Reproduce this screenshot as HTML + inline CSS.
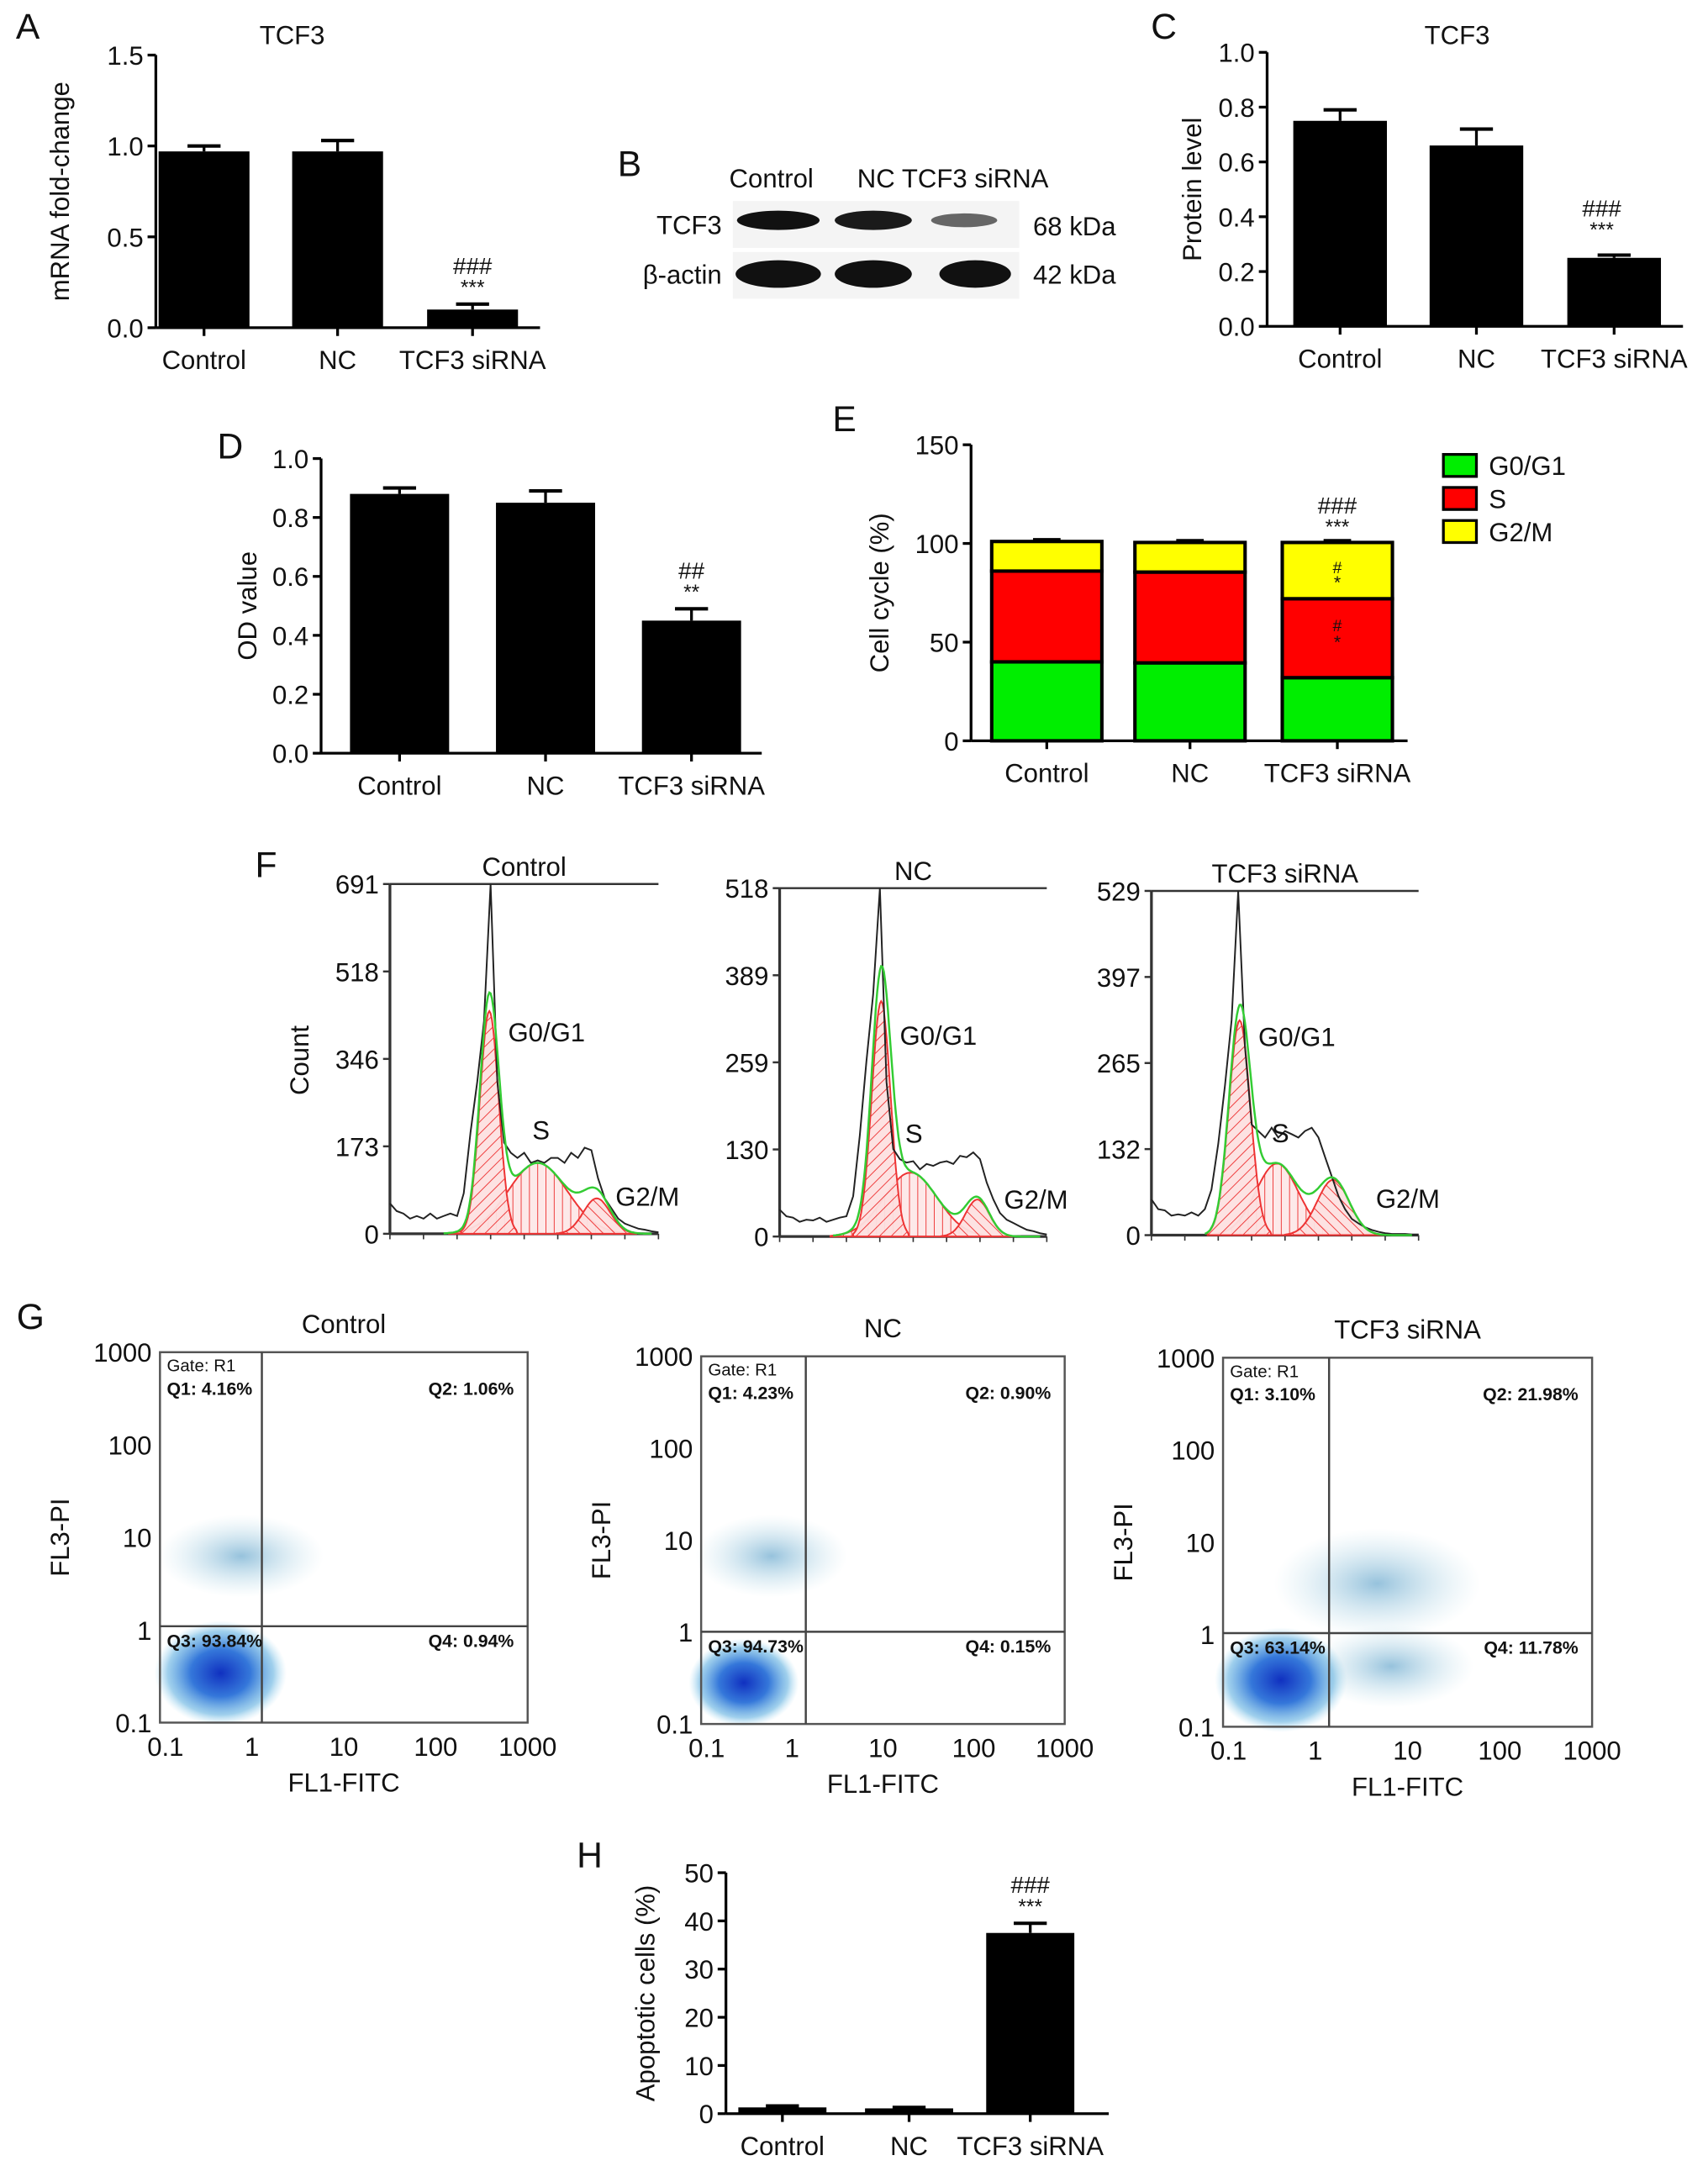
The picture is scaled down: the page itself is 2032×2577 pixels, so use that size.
<!DOCTYPE html>
<html><head><meta charset="utf-8"><style>
html,body{margin:0;padding:0;background:#fff}
svg{display:block}
text{font-family:"Liberation Sans",sans-serif;fill:#111}
</style></head><body>
<svg id="fig" width="2032" height="2577" viewBox="0 0 1240 1573" xmlns="http://www.w3.org/2000/svg">
<defs>
<pattern id="hatchD" patternUnits="userSpaceOnUse" width="6" height="6" patternTransform="rotate(45)"><rect width="6" height="6" fill="#fde0e0"/><line x1="0" y1="0" x2="0" y2="6" stroke="#e33" stroke-width="1.2"/></pattern>
<pattern id="hatchV" patternUnits="userSpaceOnUse" width="6" height="6"><rect width="6" height="6" fill="#fde8e8"/><line x1="0" y1="0" x2="0" y2="6" stroke="#e33" stroke-width="1.2"/></pattern>
<pattern id="hatchU" patternUnits="userSpaceOnUse" width="6" height="6" patternTransform="rotate(-45)"><rect width="6" height="6" fill="#fde0e0"/><line x1="0" y1="0" x2="0" y2="6" stroke="#e33" stroke-width="1.2"/></pattern>
<radialGradient id="cloud"><stop offset="0" stop-color="#1030c0"/><stop offset="0.45" stop-color="#2a70d8" stop-opacity="0.95"/><stop offset="0.8" stop-color="#60b0e0" stop-opacity="0.6"/><stop offset="1" stop-color="#a0d8f0" stop-opacity="0"/></radialGradient>
<radialGradient id="cloudL"><stop offset="0" stop-color="#4090c0" stop-opacity="0.55"/><stop offset="1" stop-color="#a0d0e0" stop-opacity="0"/></radialGradient>
</defs>
<g id="root"></g>
</svg>
<script>
// ---- data ----
const groups = ["Control","NC","TCF3 siRNA"];
const mrnaVals = [0.97,0.97,0.10];
const mrnaErr = [0.03,0.06,0.03];
const protVals = [0.75,0.66,0.25];
const protErr = [0.04,0.06,0.01];
const odVals = [0.88,0.85,0.45];
const odErr = [0.02,0.04,0.04];
const g1Vals = [40,39.5,32];
const sVals = [46,46,40];
const g2Vals = [15,15,28.5];
const apopVals = [1.3,1.1,37.5];
const apopErr = [0.3,0.2,2];
const histMax = [691,518,529];
const histTicks = [["0","173","346","518","691"],["0","130","259","389","518"],["0","132","265","397","529"]];
const histControl = [60,45,40,30,35,30,40,30,35,40,35,80,200,300,420,691,300,180,160,150,160,140,145,140,150,150,140,160,150,170,165,110,70,50,30,20,15,10,8,5,3];
const histNC = [40,30,28,22,25,24,28,22,25,28,30,60,150,260,360,518,230,130,115,110,112,100,108,105,110,112,108,120,118,125,115,80,55,35,25,20,15,10,8,5,3];
const histSi = [55,40,38,30,32,30,35,30,40,70,140,230,330,529,290,170,160,150,165,150,160,155,150,160,165,150,120,90,60,40,25,18,12,8,5,3,2,2,2,1,1];
// gaussian fits: [mean, sd, height] per phase
const fitG1 = [[0.37,0.035,440],[0.38,0.035,350],[0.33,0.04,330]];
const fitS = [[0.55,0.11,140],[0.49,0.1,95],[0.47,0.08,110]];
const fitG2 = [[0.77,0.05,70],[0.74,0.045,55],[0.68,0.06,85]];
const quadLabels = [["Q1: 4.16%","Q2: 1.06%","Q3: 93.84%","Q4: 0.94%"],["Q1: 4.23%","Q2: 0.90%","Q3: 94.73%","Q4: 0.15%"],["Q1: 3.10%","Q2: 21.98%","Q3: 63.14%","Q4: 11.78%"]];
const logTicks = ["0.1","1","10","100","1000"];

const NS="http://www.w3.org/2000/svg";
const root=document.getElementById('root');
function el(tag,attrs,parent,txt){const e=document.createElementNS(NS,tag);for(const k in attrs)e.setAttribute(k,attrs[k]);if(txt!==undefined)e.textContent=txt;(parent||root).appendChild(e);return e;}
function T(x,y,s,size,anchor,parent,extra){const e=el('text',Object.assign({x:x,y:y,'font-size':size||19,'text-anchor':anchor||'middle'},extra||{}),parent,s);return e;}

function barPanel(o){
  const g=el('g',{});
  
  
  const y=v=>o.y0-(v/o.max)*(o.y0-o.y1);
  el('line',{x1:o.ax,y1:o.y1,x2:o.ax,y2:o.y0,stroke:'#000','stroke-width':2},g);
  el('line',{x1:o.ax,y1:o.y0,x2:o.axEnd,y2:o.y0,stroke:'#000','stroke-width':2},g);
  o.ticks.forEach(t=>{const yy=y(t);el('line',{x1:o.ax-6,y1:yy,x2:o.ax,y2:yy,stroke:'#000','stroke-width':2},g);T(o.ax-9,yy+7,o.fmt(t),19,'end',g);});
  o.centers.forEach((c,i)=>{
    el('line',{x1:c,y1:o.y0,x2:c,y2:o.y0+6,stroke:'#000','stroke-width':2},g);
    const lab=T(c,o.y0+30,groups[i],19,'middle',g);
    
    if(o.vals){
      const top=y(o.vals[i]),et=y(o.vals[i]+o.err[i]);
      el('line',{x1:c,y1:et,x2:c,y2:top,stroke:'#000','stroke-width':2},g);
      el('line',{x1:c-12,y1:et,x2:c+12,y2:et,stroke:'#000','stroke-width':2.5},g);
      const b=el('rect',{x:c-o.bw/2,y:top,width:o.bw,height:o.y0-top,fill:'#000'},g);
      
    }
  });
  const yl=T(0,0,o.ylab,19,'middle',g,{transform:`translate(${o.ylx},${(o.y0+o.y1)/2}) rotate(-90)`});
  
  return {g,y};
}
function sig(x,y,hash,stars,g){T(x,y,hash,17,'middle',g);T(x,y+15,stars,15,'middle',g);}

// A
let A=barPanel({name:'panel-a-mrna',ax:113,axEnd:392,y0:238,y1:40,max:1.5,ticks:[0,0.5,1,1.5],fmt:v=>v.toFixed(1),centers:[148,245,343],bw:66,vals:mrnaVals,err:mrnaErr,ylab:'mRNA fold-change',ylx:50});
T(20,28,'A',26,'middle');T(212,32,'TCF3',19);
sig(343,A.y(mrnaVals[2]+mrnaErr[2])-22,'###','***',A.g);
// C
let C=barPanel({name:'panel-c-protein',ax:920,axEnd:1222,y0:237,y1:38,max:1.0,ticks:[0,0.2,0.4,0.6,0.8,1.0],fmt:v=>v.toFixed(1),centers:[973,1072,1172],bw:68,vals:protVals,err:protErr,ylab:'Protein level',ylx:872});
T(845,28,'C',26);T(1058,32,'TCF3',19);
sig(1163,C.y(protVals[2]+protErr[2])-28,'###','***',C.g);
// D
let D=barPanel({name:'panel-d-od',ax:233,axEnd:553,y0:547,y1:333,max:1.0,ticks:[0,0.2,0.4,0.6,0.8,1.0],fmt:v=>v.toFixed(1),centers:[290,396,502],bw:72,vals:odVals,err:odErr,ylab:'OD value',ylx:186});
T(167,333,'D',26);
sig(502,D.y(odVals[2]+odErr[2])-22,'##','**',D.g);
// E stacked
let E=barPanel({name:'panel-e-cell-cycle',ax:705,axEnd:1022,y0:538,y1:323,max:150,ticks:[0,50,100,150],fmt:v=>String(v),centers:[760,864,971],bw:80,ylab:'Cell cycle (%)',ylx:645});
T(613,313,'E',26);
[760,864,971].forEach((c,i)=>{
  let base=0;
  [[g1Vals,'#00ee00'],[sVals,'#ff0000'],[g2Vals,'#ffff00']].forEach(([arr,col],k)=>{
    const yb=E.y(base),yt=E.y(base+arr[i]);
    const r=el('rect',{x:c-40,y:yt,width:80,height:yb-yt,fill:col,stroke:'#000','stroke-width':2.5},E.g);
    
    el('line',{x1:c-10,y1:yt-1.5,x2:c+10,y2:yt-1.5,stroke:'#000','stroke-width':2},E.g);
    base+=arr[i];
  });
});
sig(971,E.y(g1Vals[2]+sVals[2]+g2Vals[2])-21,'###','***',E.g);
T(971,E.y(g1Vals[2]+sVals[2]+g2Vals[2]/2)+2,'#',12,'middle',E.g);T(971,E.y(g1Vals[2]+sVals[2]+g2Vals[2]/2)+13,'*',13,'middle',E.g);
T(971,E.y(g1Vals[2]+sVals[2]/2)-5,'#',12,'middle',E.g);T(971,E.y(g1Vals[2]+sVals[2]/2)+7,'*',13,'middle',E.g);
const leg=el('g',{});
[['G0/G1','#00ee00'],['S','#ff0000'],['G2/M','#ffff00']].forEach(([n,c],i)=>{
  el('rect',{x:1048,y:330+i*24,width:24,height:16,fill:c,stroke:'#000','stroke-width':2},leg);
  T(1081,345+i*24,n,19,'start',leg);
});
// H
let H=barPanel({name:'panel-h-apoptosis',ax:527,axEnd:805,y0:1535,y1:1360,max:50,ticks:[0,10,20,30,40,50],fmt:v=>String(v),centers:[568,660,748],bw:64,vals:apopVals,err:apopErr,ylab:'Apoptotic cells (%)',ylx:475});
T(428,1356,'H',26);
sig(748,H.y(apopVals[2]+apopErr[2])-22,'###','***',H.g);

// B western blot
const wb=el('g',{});
T(457,128,'B',26,'middle',wb);
T(560,136,'Control',19,'middle',wb);T(636,136,'NC',19,'middle',wb);T(708,136,'TCF3 siRNA',19,'middle',wb);
el('rect',{x:532,y:146,width:208,height:34,fill:'#f4f4f4'},wb);
el('rect',{x:532,y:183,width:208,height:34,fill:'#f4f4f4'},wb);
T(524,170,'TCF3',19,'end',wb);T(524,206,'β-actin',19,'end',wb);
T(750,171,'68 kDa',19,'start',wb);T(750,206,'42 kDa',19,'start',wb);
[[565,30,7,'#111'],[634,28,7,'#1a1a1a'],[700,24,5,'#666']].forEach(b=>el('ellipse',{cx:b[0],cy:160,rx:b[1],ry:b[2],fill:b[3]},wb));
[[565,31,10],[634,28,10],[708,26,10]].forEach(b=>el('ellipse',{cx:b[0],cy:199,rx:b[1],ry:b[2],fill:'#111'},wb));

// F histograms
T(193,637,'F',26);
const hp=[{ax:283,right:478,top:642,bot:896,title:'Control'},{ax:566,right:760,top:645,bot:898,title:'NC'},{ax:836,right:1030,top:647,bot:897,title:'TCF3 siRNA'}];
const hdata=[histControl,histNC,histSi];
hp.forEach((p,i)=>{
  const g=el('g',{});
  const W=p.right-p.ax;const X=f=>p.ax+f*W;const Y=v=>p.bot-v/histMax[i]*(p.bot-p.top);
  el('line',{x1:p.ax,y1:p.top,x2:p.right,y2:p.top,stroke:'#333','stroke-width':1.5},g);
  el('line',{x1:p.ax,y1:p.top,x2:p.ax,y2:p.bot,stroke:'#333','stroke-width':2},g);
  el('line',{x1:p.ax,y1:p.bot,x2:p.right,y2:p.bot,stroke:'#333','stroke-width':2},g);
  T((p.ax+p.right)/2,p.top-6,p.title,19,'middle',g);
  histTicks[i].forEach((t,k)=>{const yy=p.bot-k/4*(p.bot-p.top);T(p.ax-8,yy+7,t,19,'end',g);el('line',{x1:p.ax-5,y1:yy,x2:p.ax,y2:yy,stroke:'#333','stroke-width':1.5},g);});
  for(let k=0;k<=8;k++)el('line',{x1:X(k/8),y1:p.bot,x2:X(k/8),y2:p.bot+4,stroke:'#333','stroke-width':1},g);
  const gauss=(f,q)=>q[2]*Math.exp(-0.5*Math.pow((f-q[0])/q[1],2));
  [[fitS[i],'url(#hatchV)'],[fitG1[i],'url(#hatchD)'],[fitG2[i],'url(#hatchU)']].forEach(([q,fill])=>{
    let d='M'+X(Math.max(0,q[0]-3*q[1]))+','+p.bot;
    for(let f=Math.max(0,q[0]-3*q[1]);f<=Math.min(1,q[0]+3*q[1]);f+=0.005)d+=' L'+X(f).toFixed(1)+','+Y(gauss(f,q)).toFixed(1);
    d+=' L'+X(Math.min(1,q[0]+3*q[1]))+','+p.bot+'Z';
    el('path',{d:d,fill:fill,stroke:'#e33','stroke-width':1.2,'fill-opacity':0.95},g);
  });
  let dk='';const arr=hdata[i];
  arr.forEach((v,k)=>{dk+=(k?' L':'M')+X(k/(arr.length-1)).toFixed(1)+','+Y(v).toFixed(1);});
  el('path',{d:dk,fill:'none',stroke:'#222','stroke-width':1.2},g);
  let dg='';for(let f=0.2;f<=0.98;f+=0.005){const v=gauss(f,fitG1[i])+gauss(f,fitS[i])+gauss(f,fitG2[i]);dg+=(dg?' L':'M')+X(f).toFixed(1)+','+Y(v).toFixed(1);}
  el('path',{d:dg,fill:'none',stroke:'#3c3','stroke-width':1.5},g);
  const pk=fitG1[i][0];
  T(X(pk+0.07),Y(histMax[i]*0.55),'G0/G1',19,'start',g);
  T(X(fitS[i][0]-0.02),Y(histMax[i]*0.27),'S',19,'start',g);
  T(X(0.84),Y(histMax[i]*0.08),'G2/M',19,'start',g);
});
T(0,0,'Count',19,'middle',root,{transform:'translate(224,770) rotate(-90)'});

// G scatter
T(22,965,'G',26);
const sp=[{l:116,r:383,t:982,b:1251,vx:190,hy:1181,title:'Control',cx:[[160,1215,48,38,'url(#cloud)'],[175,1130,60,30,'url(#cloudL)']]},
{l:509,r:773,t:985,b:1252,vx:585,hy:1185,title:'NC',cx:[[540,1222,40,32,'url(#cloud)'],[560,1130,55,30,'url(#cloudL)']]},
{l:888,r:1156,t:986,b:1254,vx:965,hy:1186,title:'TCF3 siRNA',cx:[[930,1220,48,38,'url(#cloud)'],[1000,1150,75,40,'url(#cloudL)'],[1010,1210,60,30,'url(#cloudL)']]}];
sp.forEach((p,i)=>{
  const g=el('g',{});
  T((p.l+p.r)/2,p.t-14,p.title,19,'middle',g);
  p.cx.forEach(c=>el('ellipse',{cx:c[0],cy:c[1],rx:c[2],ry:c[3],fill:c[4]},g));
  el('rect',{x:p.l,y:p.t,width:p.r-p.l,height:p.b-p.t,fill:'none',stroke:'#555','stroke-width':1.5},g);
  el('line',{x1:p.vx,y1:p.t,x2:p.vx,y2:p.b,stroke:'#444','stroke-width':1.5},g);
  el('line',{x1:p.l,y1:p.hy,x2:p.r,y2:p.hy,stroke:'#444','stroke-width':1.5},g);
  logTicks.forEach((t,k)=>{
    const yy=p.b-k/4*(p.b-p.t);T(p.l-6,yy+7,t,19,'end',g);
    const xx=p.l+k/4*(p.r-p.l);T(xx+(k==0?4:0),p.b+24,t,19,'middle',g);
  });
  T((p.l+p.r)/2,p.b+50,'FL1-FITC',19,'middle',g);
  T(0,0,'FL3-PI',19,'middle',g,{transform:`translate(${p.l-66},${(p.t+p.b)/2}) rotate(-90)`});
  T(p.l+5,p.t+14,'Gate: R1',12.5,'start',g,{fill:'#444'});
  const q=quadLabels[i];
  T(p.l+5,p.t+31,q[0],13,'start',g,{'font-weight':'bold'});
  T(p.r-10,p.t+31,q[1],13,'end',g,{'font-weight':'bold'});
  T(p.l+5,p.hy+15,q[2],13,'start',g,{'font-weight':'bold'});
  T(p.r-10,p.hy+15,q[3],13,'end',g,{'font-weight':'bold'});
});
</script>
</body></html>
